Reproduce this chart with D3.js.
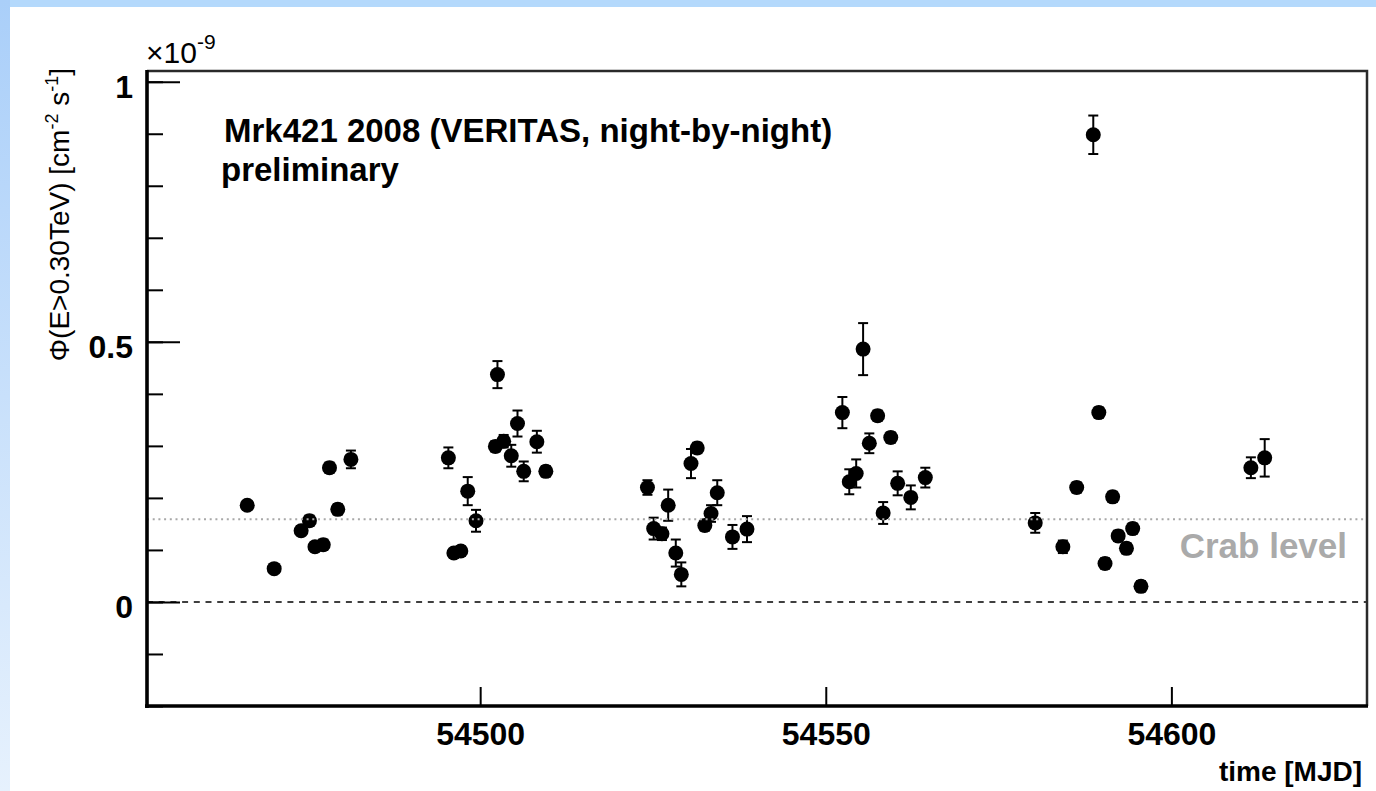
<!DOCTYPE html>
<html>
<head>
<meta charset="utf-8">
<script src="https://cdn.jsdelivr.net/npm/d3@7"></script>
<style>
  html, body { margin: 0; padding: 0; background: #fff; }
  svg { display: block; }
  text { font-family: "Liberation Sans", Arial, Helvetica, sans-serif; }
</style>
</head>
<body>
<svg id="chart" width="1376" height="791"></svg>
<script>
// Night-by-night integral flux of Mrk421 (VERITAS, 2008)
const mjd = [
  54466.3, 54470.2, 54474.1, 54475.3, 54476.1, 54477.3, 54478.2, 54479.4, 54481.3,
  54495.4, 54496.2, 54497.2, 54498.2, 54499.4, 54502.2, 54502.5, 54503.4, 54504.5,
  54505.4, 54506.3, 54508.2, 54509.5,
  54524.2, 54525.1, 54526.3, 54527.2, 54528.3, 54529.1, 54530.5, 54531.4, 54532.5,
  54533.4, 54534.3, 54536.5, 54538.6,
  54552.4, 54553.4, 54554.4, 54555.4, 54556.3, 54557.5, 54558.3, 54559.4, 54560.4,
  54562.3, 54564.4,
  54580.3, 54584.3, 54586.3, 54588.7, 54589.5, 54590.4, 54591.5, 54592.3, 54593.5,
  54594.4, 54595.6,
  54611.5, 54613.5
];
// flux above 0.30 TeV, in units of 1e-9 cm^-2 s^-1
const flux = [
  0.186, 0.064, 0.137, 0.156, 0.106, 0.110, 0.258, 0.178, 0.274,
  0.277, 0.094, 0.098, 0.213, 0.156, 0.299, 0.437, 0.309, 0.281,
  0.343, 0.251, 0.308, 0.251,
  0.220, 0.141, 0.131, 0.186, 0.094, 0.053, 0.266, 0.296, 0.147,
  0.170, 0.210, 0.125, 0.140,
  0.364, 0.231, 0.247, 0.486, 0.305, 0.358, 0.171, 0.316, 0.228,
  0.201, 0.239,
  0.152, 0.106, 0.220, 0.898, 0.364, 0.074, 0.202, 0.127, 0.103,
  0.141, 0.030,
  0.258, 0.277
];
const fluxErr = [
  0.008, 0.008, 0.009, 0.010, 0.009, 0.010, 0.010, 0.010, 0.017,
  0.020, 0.008, 0.009, 0.027, 0.021, 0.010, 0.026, 0.012, 0.021,
  0.025, 0.019, 0.021, 0.010,
  0.014, 0.021, 0.012, 0.030, 0.026, 0.023, 0.028, 0.010, 0.010,
  0.016, 0.024, 0.023, 0.025,
  0.030, 0.024, 0.027, 0.050, 0.019, 0.010, 0.021, 0.010, 0.023,
  0.023, 0.019,
  0.019, 0.012, 0.010, 0.037, 0.010, 0.010, 0.010, 0.010, 0.010,
  0.010, 0.010,
  0.020, 0.036
];
const crabLevel = 0.159;
const xTicks = [54500, 54550, 54600];
const yMajorTicks = [0, 0.5, 1];
const yMinorTicks = [-0.2, -0.1, 0, 0.1, 0.2, 0.3, 0.4, 0.5, 0.6, 0.7, 0.8, 0.9, 1.0];

const points = mjd.map((d, i) => ({ t: d, v: flux[i], e: fluxErr[i] }));

const svg = d3.select("#chart");
const W = 1376, H = 791;
const frame = { left: 147, right: 1367, top: 71, bottom: 706 };

// page background with pale blue border strips
const defs = svg.append("defs");
const grad = defs.append("linearGradient").attr("id", "edgeGrad")
  .attr("x1", 0).attr("y1", 0).attr("x2", 0).attr("y2", 1);
grad.append("stop").attr("offset", "0%").attr("stop-color", "#aacff9");
grad.append("stop").attr("offset", "100%").attr("stop-color", "#e6f1fd");
svg.append("rect").attr("width", W).attr("height", H).attr("fill", "#fff");
svg.append("rect").attr("x", 0).attr("y", 0).attr("width", W).attr("height", 7).attr("fill", "#b4d9fc");
svg.append("rect").attr("x", 0).attr("y", 0).attr("width", 10).attr("height", H).attr("fill", "url(#edgeGrad)");

const x = d3.scaleLinear().domain([54451.8, 54628.3]).range([frame.left, frame.right]);
const y = d3.scaleLinear().domain([-0.2, 1.0206]).range([frame.bottom, frame.top]);

// zero line
svg.append("line")
  .attr("x1", frame.left).attr("x2", frame.right)
  .attr("y1", y(0)).attr("y2", y(0))
  .attr("stroke", "#000").attr("stroke-width", 1.6)
  .attr("stroke-dasharray", "6,5.7");

// error bars
const eb = svg.append("g").attr("stroke", "#000").attr("stroke-width", 2);
points.forEach(p => {
  const cx = x(p.t), y1 = y(p.v + p.e), y2 = y(p.v - p.e);
  eb.append("line").attr("x1", cx).attr("x2", cx).attr("y1", y1).attr("y2", y2);
  eb.append("line").attr("x1", cx - 5).attr("x2", cx + 5).attr("y1", y1).attr("y2", y1);
  eb.append("line").attr("x1", cx - 5).attr("x2", cx + 5).attr("y1", y2).attr("y2", y2);
});

// markers
svg.append("g").selectAll("circle").data(points).join("circle")
  .attr("cx", d => x(d.t)).attr("cy", d => y(d.v))
  .attr("r", 7.5).attr("fill", "#000");

// Crab reference level
svg.append("line")
  .attr("x1", frame.left).attr("x2", frame.right)
  .attr("y1", y(crabLevel)).attr("y2", y(crabLevel))
  .attr("stroke", "#a8a8a8").attr("stroke-width", 2.2)
  .attr("stroke-dasharray", "2,3.7");
svg.append("text")
  .attr("x", 1347).attr("y", y(crabLevel) + 39)
  .attr("text-anchor", "end")
  .attr("font-size", 35).attr("font-weight", "bold").attr("fill", "#aaaaaa")
  .text("Crab level");

// frame (top and right)
svg.append("path")
  .attr("d", `M${frame.left},${frame.top}H${frame.right}V${frame.bottom}`)
  .attr("fill", "none").attr("stroke", "#2a2a2a").attr("stroke-width", 2.5);

// y axis: minor and major ticks pointing inward
const yMinor = d3.axisLeft(y).tickValues(yMinorTicks).tickSize(-16).tickFormat("");
svg.append("g").attr("transform", `translate(${frame.left},0)`).call(yMinor)
  .call(g => g.select(".domain").remove())
  .call(g => g.selectAll("line").attr("stroke", "#000").attr("stroke-width", 2));

const yMajor = d3.axisLeft(y).tickValues(yMajorTicks).tickSize(-33).tickPadding(14)
  .tickFormat(d => d3.format("~g")(d));
svg.append("g").attr("transform", `translate(${frame.left},0)`).call(yMajor)
  .call(g => g.select(".domain").remove())
  .call(g => g.selectAll("line").attr("stroke", "#000").attr("stroke-width", 2))
  .call(g => g.selectAll("text")
    .attr("font-family", "Liberation Sans, Arial, sans-serif")
    .attr("font-size", 32).attr("font-weight", "bold").attr("fill", "#000")
    .attr("dy", "0.48em"));

// x axis
const xAxis = d3.axisBottom(x).tickValues(xTicks).tickSize(-19).tickPadding(16)
  .tickFormat(d3.format("d"));
svg.append("g").attr("transform", `translate(0,${frame.bottom})`).call(xAxis)
  .call(g => g.select(".domain").remove())
  .call(g => g.selectAll("line").attr("stroke", "#000").attr("stroke-width", 2))
  .call(g => g.selectAll("text")
    .attr("font-family", "Liberation Sans, Arial, sans-serif")
    .attr("font-size", 32).attr("font-weight", "bold").attr("fill", "#000"));

// thick axis lines
svg.append("line").attr("x1", frame.left).attr("x2", frame.left)
  .attr("y1", frame.top - 1).attr("y2", frame.bottom + 2)
  .attr("stroke", "#000").attr("stroke-width", 3.6);
svg.append("line").attr("x1", frame.left - 2).attr("x2", frame.right + 1)
  .attr("y1", frame.bottom).attr("y2", frame.bottom)
  .attr("stroke", "#000").attr("stroke-width", 3.4);

// axis exponent
const expo = svg.append("text").attr("x", 146).attr("y", 63).attr("font-size", 30).attr("fill", "#000");
expo.append("tspan").text("\u00d710");
expo.append("tspan").attr("font-size", 21).attr("dy", -14).text("-9");

// axis titles
const yTitle = svg.append("text")
  .attr("transform", "translate(69,68) rotate(-90)")
  .attr("text-anchor", "end").attr("font-size", 28).attr("fill", "#000");
yTitle.append("tspan").text("\u03a6(E>0.30TeV) [cm");
yTitle.append("tspan").attr("font-size", 18).attr("dy", -11).text("-2");
yTitle.append("tspan").attr("dy", 11).text(" s");
yTitle.append("tspan").attr("font-size", 18).attr("dy", -11).text("-1");
yTitle.append("tspan").attr("dy", 11).text("]");

svg.append("text").attr("x", 1362).attr("y", 781)
  .attr("text-anchor", "end").attr("font-size", 28).attr("font-weight", "bold")
  .attr("fill", "#000").text("time [MJD]");

// labels inside the frame
svg.append("text").attr("x", 224).attr("y", 142)
  .attr("font-size", 33).attr("font-weight", "bold").attr("fill", "#000")
  .text("Mrk421 2008 (VERITAS, night-by-night)");
svg.append("text").attr("x", 221).attr("y", 181)
  .attr("font-size", 33).attr("font-weight", "bold").attr("fill", "#000")
  .text("preliminary");
</script>
</body>
</html>
